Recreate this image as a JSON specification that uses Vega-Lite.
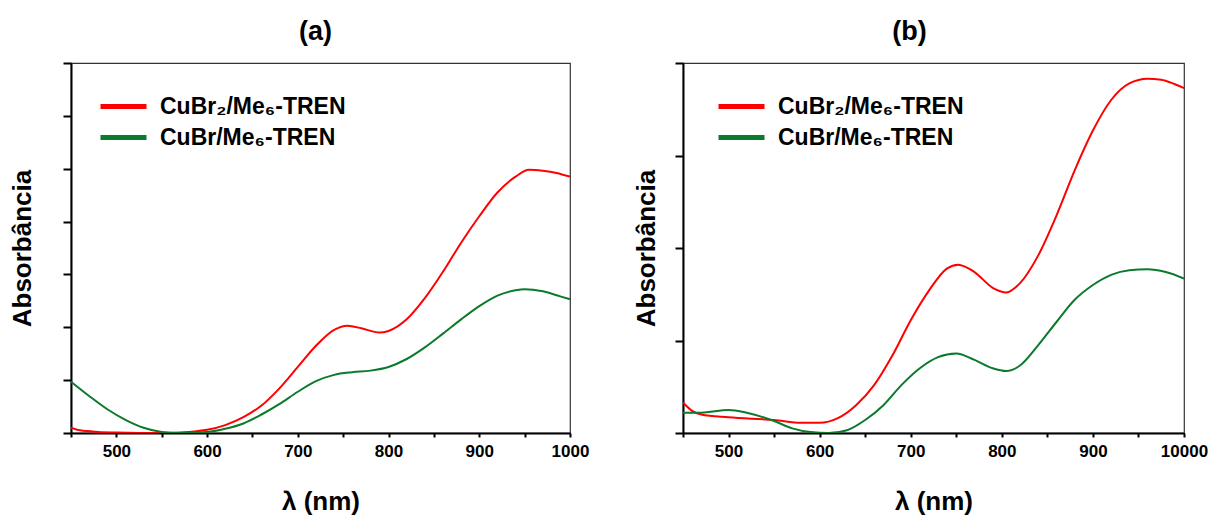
{
  "$schema": "https://vega.github.io/schema/vega-lite/v6.json",
  "padding": {"left": 8, "top": 17, "right": 5, "bottom": 0},
  "background": "white",
  "config": {
    "font": "Liberation Sans",
    "view": {"stroke": "#333333", "strokeWidth": 1.2},
    "axis": {
      "domainColor": "black", "domainWidth": 2, "tickColor": "black", "tickWidth": 2,
      "grid": false, "labelFont": "Liberation Sans", "labelFontWeight": "bold", "labelFontSize": 17,
      "labelColor": "black", "titleFont": "Liberation Sans", "titleFontWeight": "bold", "titleFontSize": 26,
      "titleColor": "black", "labelOverlap": false, "labelFlush": false, "labelBound": false
    },
    "legend": {"labelFont": "Liberation Sans", "labelFontWeight": "bold", "labelFontSize": 23, "labelColor": "black", "labelLimit": 0},
    "title": {"font": "Liberation Sans", "fontSize": 27, "fontWeight": "bold", "color": "black"}
  },
  "datasets": {
    "spectra": [
      {"panel": "a", "series": "CuBr₂/Me₆-TREN", "wl": 450, "abs": 0.10},
      {"panel": "a", "series": "CuBr₂/Me₆-TREN", "wl": 460, "abs": 0.05},
      {"panel": "a", "series": "CuBr₂/Me₆-TREN", "wl": 480, "abs": 0.02},
      {"panel": "a", "series": "CuBr₂/Me₆-TREN", "wl": 500, "abs": 0.01},
      {"panel": "a", "series": "CuBr₂/Me₆-TREN", "wl": 550, "abs": 0.0},
      {"panel": "a", "series": "CuBr₂/Me₆-TREN", "wl": 580, "abs": 0.02},
      {"panel": "a", "series": "CuBr₂/Me₆-TREN", "wl": 600, "abs": 0.06},
      {"panel": "a", "series": "CuBr₂/Me₆-TREN", "wl": 620, "abs": 0.15},
      {"panel": "a", "series": "CuBr₂/Me₆-TREN", "wl": 640, "abs": 0.30},
      {"panel": "a", "series": "CuBr₂/Me₆-TREN", "wl": 660, "abs": 0.52},
      {"panel": "a", "series": "CuBr₂/Me₆-TREN", "wl": 680, "abs": 0.85},
      {"panel": "a", "series": "CuBr₂/Me₆-TREN", "wl": 700, "abs": 1.25},
      {"panel": "a", "series": "CuBr₂/Me₆-TREN", "wl": 720, "abs": 1.65},
      {"panel": "a", "series": "CuBr₂/Me₆-TREN", "wl": 740, "abs": 1.95},
      {"panel": "a", "series": "CuBr₂/Me₆-TREN", "wl": 755, "abs": 2.03},
      {"panel": "a", "series": "CuBr₂/Me₆-TREN", "wl": 770, "abs": 1.98},
      {"panel": "a", "series": "CuBr₂/Me₆-TREN", "wl": 790, "abs": 1.90},
      {"panel": "a", "series": "CuBr₂/Me₆-TREN", "wl": 800, "abs": 1.93},
      {"panel": "a", "series": "CuBr₂/Me₆-TREN", "wl": 820, "abs": 2.15},
      {"panel": "a", "series": "CuBr₂/Me₆-TREN", "wl": 840, "abs": 2.55},
      {"panel": "a", "series": "CuBr₂/Me₆-TREN", "wl": 860, "abs": 3.05},
      {"panel": "a", "series": "CuBr₂/Me₆-TREN", "wl": 880, "abs": 3.60},
      {"panel": "a", "series": "CuBr₂/Me₆-TREN", "wl": 900, "abs": 4.10},
      {"panel": "a", "series": "CuBr₂/Me₆-TREN", "wl": 920, "abs": 4.55},
      {"panel": "a", "series": "CuBr₂/Me₆-TREN", "wl": 940, "abs": 4.85},
      {"panel": "a", "series": "CuBr₂/Me₆-TREN", "wl": 955, "abs": 4.98},
      {"panel": "a", "series": "CuBr₂/Me₆-TREN", "wl": 970, "abs": 4.96},
      {"panel": "a", "series": "CuBr₂/Me₆-TREN", "wl": 985, "abs": 4.92},
      {"panel": "a", "series": "CuBr₂/Me₆-TREN", "wl": 1000, "abs": 4.85},
      {"panel": "a", "series": "CuBr/Me₆-TREN", "wl": 450, "abs": 0.97},
      {"panel": "a", "series": "CuBr/Me₆-TREN", "wl": 470, "abs": 0.70},
      {"panel": "a", "series": "CuBr/Me₆-TREN", "wl": 490, "abs": 0.45},
      {"panel": "a", "series": "CuBr/Me₆-TREN", "wl": 510, "abs": 0.25},
      {"panel": "a", "series": "CuBr/Me₆-TREN", "wl": 530, "abs": 0.10},
      {"panel": "a", "series": "CuBr/Me₆-TREN", "wl": 550, "abs": 0.02},
      {"panel": "a", "series": "CuBr/Me₆-TREN", "wl": 570, "abs": 0.0},
      {"panel": "a", "series": "CuBr/Me₆-TREN", "wl": 600, "abs": 0.02},
      {"panel": "a", "series": "CuBr/Me₆-TREN", "wl": 620, "abs": 0.08},
      {"panel": "a", "series": "CuBr/Me₆-TREN", "wl": 640, "abs": 0.18},
      {"panel": "a", "series": "CuBr/Me₆-TREN", "wl": 660, "abs": 0.35},
      {"panel": "a", "series": "CuBr/Me₆-TREN", "wl": 680, "abs": 0.55},
      {"panel": "a", "series": "CuBr/Me₆-TREN", "wl": 700, "abs": 0.78},
      {"panel": "a", "series": "CuBr/Me₆-TREN", "wl": 720, "abs": 0.98},
      {"panel": "a", "series": "CuBr/Me₆-TREN", "wl": 740, "abs": 1.10},
      {"panel": "a", "series": "CuBr/Me₆-TREN", "wl": 760, "abs": 1.15},
      {"panel": "a", "series": "CuBr/Me₆-TREN", "wl": 780, "abs": 1.18},
      {"panel": "a", "series": "CuBr/Me₆-TREN", "wl": 800, "abs": 1.25},
      {"panel": "a", "series": "CuBr/Me₆-TREN", "wl": 820, "abs": 1.40},
      {"panel": "a", "series": "CuBr/Me₆-TREN", "wl": 840, "abs": 1.62},
      {"panel": "a", "series": "CuBr/Me₆-TREN", "wl": 860, "abs": 1.88},
      {"panel": "a", "series": "CuBr/Me₆-TREN", "wl": 880, "abs": 2.15},
      {"panel": "a", "series": "CuBr/Me₆-TREN", "wl": 900, "abs": 2.40},
      {"panel": "a", "series": "CuBr/Me₆-TREN", "wl": 920, "abs": 2.60},
      {"panel": "a", "series": "CuBr/Me₆-TREN", "wl": 940, "abs": 2.70},
      {"panel": "a", "series": "CuBr/Me₆-TREN", "wl": 950, "abs": 2.72},
      {"panel": "a", "series": "CuBr/Me₆-TREN", "wl": 970, "abs": 2.68},
      {"panel": "a", "series": "CuBr/Me₆-TREN", "wl": 990, "abs": 2.58},
      {"panel": "a", "series": "CuBr/Me₆-TREN", "wl": 1000, "abs": 2.53},
      {"panel": "b", "series": "CuBr₂/Me₆-TREN", "wl": 450, "abs": 0.33},
      {"panel": "b", "series": "CuBr₂/Me₆-TREN", "wl": 460, "abs": 0.24},
      {"panel": "b", "series": "CuBr₂/Me₆-TREN", "wl": 470, "abs": 0.20},
      {"panel": "b", "series": "CuBr₂/Me₆-TREN", "wl": 500, "abs": 0.17},
      {"panel": "b", "series": "CuBr₂/Me₆-TREN", "wl": 550, "abs": 0.14},
      {"panel": "b", "series": "CuBr₂/Me₆-TREN", "wl": 580, "abs": 0.11},
      {"panel": "b", "series": "CuBr₂/Me₆-TREN", "wl": 600, "abs": 0.11},
      {"panel": "b", "series": "CuBr₂/Me₆-TREN", "wl": 620, "abs": 0.16},
      {"panel": "b", "series": "CuBr₂/Me₆-TREN", "wl": 640, "abs": 0.30},
      {"panel": "b", "series": "CuBr₂/Me₆-TREN", "wl": 660, "abs": 0.52},
      {"panel": "b", "series": "CuBr₂/Me₆-TREN", "wl": 680, "abs": 0.84},
      {"panel": "b", "series": "CuBr₂/Me₆-TREN", "wl": 700, "abs": 1.22},
      {"panel": "b", "series": "CuBr₂/Me₆-TREN", "wl": 720, "abs": 1.54},
      {"panel": "b", "series": "CuBr₂/Me₆-TREN", "wl": 740, "abs": 1.78},
      {"panel": "b", "series": "CuBr₂/Me₆-TREN", "wl": 752, "abs": 1.82},
      {"panel": "b", "series": "CuBr₂/Me₆-TREN", "wl": 770, "abs": 1.74},
      {"panel": "b", "series": "CuBr₂/Me₆-TREN", "wl": 790, "abs": 1.57},
      {"panel": "b", "series": "CuBr₂/Me₆-TREN", "wl": 805, "abs": 1.52},
      {"panel": "b", "series": "CuBr₂/Me₆-TREN", "wl": 820, "abs": 1.62},
      {"panel": "b", "series": "CuBr₂/Me₆-TREN", "wl": 840, "abs": 1.92},
      {"panel": "b", "series": "CuBr₂/Me₆-TREN", "wl": 860, "abs": 2.35},
      {"panel": "b", "series": "CuBr₂/Me₆-TREN", "wl": 880, "abs": 2.84},
      {"panel": "b", "series": "CuBr₂/Me₆-TREN", "wl": 900, "abs": 3.27},
      {"panel": "b", "series": "CuBr₂/Me₆-TREN", "wl": 920, "abs": 3.60},
      {"panel": "b", "series": "CuBr₂/Me₆-TREN", "wl": 940, "abs": 3.78},
      {"panel": "b", "series": "CuBr₂/Me₆-TREN", "wl": 960, "abs": 3.83},
      {"panel": "b", "series": "CuBr₂/Me₆-TREN", "wl": 975, "abs": 3.82},
      {"panel": "b", "series": "CuBr₂/Me₆-TREN", "wl": 990, "abs": 3.77},
      {"panel": "b", "series": "CuBr₂/Me₆-TREN", "wl": 1000, "abs": 3.73},
      {"panel": "b", "series": "CuBr/Me₆-TREN", "wl": 450, "abs": 0.22},
      {"panel": "b", "series": "CuBr/Me₆-TREN", "wl": 470, "abs": 0.22},
      {"panel": "b", "series": "CuBr/Me₆-TREN", "wl": 500, "abs": 0.25},
      {"panel": "b", "series": "CuBr/Me₆-TREN", "wl": 520, "abs": 0.22},
      {"panel": "b", "series": "CuBr/Me₆-TREN", "wl": 550, "abs": 0.13},
      {"panel": "b", "series": "CuBr/Me₆-TREN", "wl": 570, "abs": 0.05},
      {"panel": "b", "series": "CuBr/Me₆-TREN", "wl": 590, "abs": 0.01},
      {"panel": "b", "series": "CuBr/Me₆-TREN", "wl": 610, "abs": 0.0},
      {"panel": "b", "series": "CuBr/Me₆-TREN", "wl": 630, "abs": 0.03},
      {"panel": "b", "series": "CuBr/Me₆-TREN", "wl": 650, "abs": 0.14},
      {"panel": "b", "series": "CuBr/Me₆-TREN", "wl": 670, "abs": 0.30},
      {"panel": "b", "series": "CuBr/Me₆-TREN", "wl": 690, "abs": 0.52},
      {"panel": "b", "series": "CuBr/Me₆-TREN", "wl": 710, "abs": 0.70},
      {"panel": "b", "series": "CuBr/Me₆-TREN", "wl": 730, "abs": 0.82},
      {"panel": "b", "series": "CuBr/Me₆-TREN", "wl": 750, "abs": 0.86},
      {"panel": "b", "series": "CuBr/Me₆-TREN", "wl": 770, "abs": 0.79},
      {"panel": "b", "series": "CuBr/Me₆-TREN", "wl": 790, "abs": 0.70},
      {"panel": "b", "series": "CuBr/Me₆-TREN", "wl": 805, "abs": 0.67},
      {"panel": "b", "series": "CuBr/Me₆-TREN", "wl": 820, "abs": 0.73},
      {"panel": "b", "series": "CuBr/Me₆-TREN", "wl": 840, "abs": 0.95},
      {"panel": "b", "series": "CuBr/Me₆-TREN", "wl": 860, "abs": 1.20},
      {"panel": "b", "series": "CuBr/Me₆-TREN", "wl": 880, "abs": 1.44},
      {"panel": "b", "series": "CuBr/Me₆-TREN", "wl": 900, "abs": 1.60},
      {"panel": "b", "series": "CuBr/Me₆-TREN", "wl": 920, "abs": 1.71},
      {"panel": "b", "series": "CuBr/Me₆-TREN", "wl": 940, "abs": 1.76},
      {"panel": "b", "series": "CuBr/Me₆-TREN", "wl": 960, "abs": 1.77},
      {"panel": "b", "series": "CuBr/Me₆-TREN", "wl": 980, "abs": 1.74},
      {"panel": "b", "series": "CuBr/Me₆-TREN", "wl": 1000, "abs": 1.67}
    ]
  },
  "spacing": 42,
  "resolve": {"legend": {"color": "independent"}, "scale": {"color": "independent", "x": "independent", "y": "independent"}},
  "hconcat": [
    {
      "width": 499,
      "height": 370,
      "title": {"text": "(a)", "anchor": "middle", "dx": -5, "offset": 16},
      "data": {"name": "spectra"},
      "transform": [{"filter": "datum.panel == 'a'"}],
      "mark": {"type": "line", "strokeWidth": 2, "interpolate": "monotone", "clip": true},
      "encoding": {
        "x": {"field": "wl", "type": "quantitative",
          "scale": {"domain": [450, 1000], "nice": false, "zero": false},
          "axis": {"title": "λ (nm)", "values": [450, 500, 550, 600, 650, 700, 750, 800, 850, 900, 950, 1000],
            "format": "d", "labelExpr": "datum.value % 100 == 0 ? datum.label : ''",
            "tickSize": 4, "labelPadding": 6, "titlePadding": 29}},
        "y": {"field": "abs", "type": "quantitative",
          "scale": {"domain": [0, 7], "nice": false},
          "axis": {"title": "Absorbância", "values": [0, 1, 2, 3, 4, 5, 6, 7], "labels": false,
            "tickSize": 8, "titlePadding": 27}},
        "color": {"field": "series", "type": "nominal",
          "scale": {"domain": ["CuBr₂/Me₆-TREN", "CuBr/Me₆-TREN"], "range": ["#ff0000", "#0b7a2c"]},
          "legend": {"title": null, "orient": "none", "legendX": 27, "legendY": 28,
            "symbolType": "stroke", "symbolSize": 2116, "symbolStrokeWidth": 5,
            "labelOffset": 11, "rowPadding": 0, "clipHeight": 31, "padding": 0,
            "encode": {"symbols": {"update": {"stroke": {"signal": "datum.value == 'CuBr/Me₆-TREN' ? '#00a64f' : '#ff0000'"}}}}}}
      }
    },
    {
      "width": 501,
      "height": 370,
      "title": {"text": "(b)", "anchor": "middle", "dx": -24, "offset": 16},
      "data": {"name": "spectra"},
      "transform": [{"filter": "datum.panel == 'b'"}],
      "mark": {"type": "line", "strokeWidth": 2, "interpolate": "monotone", "clip": true},
      "encoding": {
        "x": {"field": "wl", "type": "quantitative",
          "scale": {"domain": [450, 1000], "nice": false, "zero": false},
          "axis": {"title": "λ (nm)", "values": [450, 500, 550, 600, 650, 700, 750, 800, 850, 900, 950, 1000],
            "format": "d", "labelExpr": "datum.value % 100 == 0 ? (datum.value == 1000 ? '10000' : datum.label) : ''",
            "tickSize": 4, "labelPadding": 6, "titlePadding": 29}},
        "y": {"field": "abs", "type": "quantitative",
          "scale": {"domain": [0, 4], "nice": false},
          "axis": {"title": "Absorbância", "values": [0, 1, 2, 3, 4], "labels": false,
            "tickSize": 8, "titlePadding": 15}},
        "color": {"field": "series", "type": "nominal",
          "scale": {"domain": ["CuBr₂/Me₆-TREN", "CuBr/Me₆-TREN"], "range": ["#ff0000", "#0b7a2c"]},
          "legend": {"title": null, "orient": "none", "legendX": 33, "legendY": 28,
            "symbolType": "stroke", "symbolSize": 2116, "symbolStrokeWidth": 5,
            "labelOffset": 11, "rowPadding": 0, "clipHeight": 31, "padding": 0,
            "encode": {"symbols": {"update": {"stroke": {"signal": "datum.value == 'CuBr/Me₆-TREN' ? '#00a64f' : '#ff0000'"}}}}}}
      }
    }
  ]
}
